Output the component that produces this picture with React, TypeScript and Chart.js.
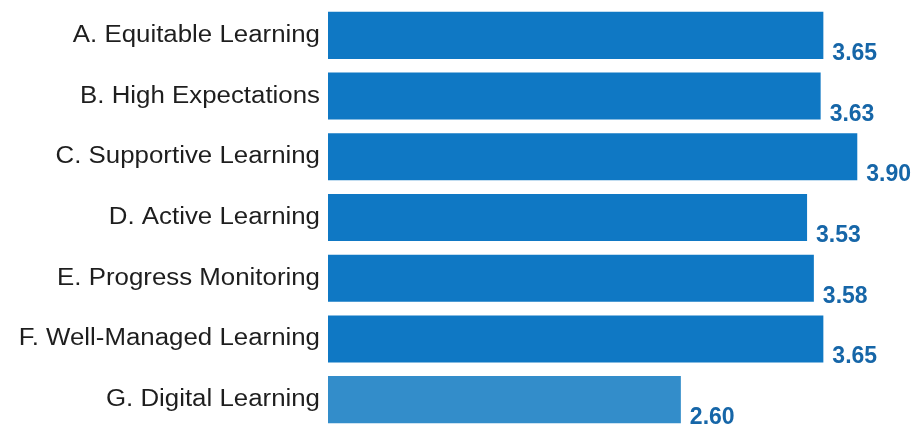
import React, { useEffect, useRef } from "react";
import { Chart, registerables } from "chart.js";

Chart.register(...registerables);

const categories = [
  "A. Equitable Learning",
  "B. High Expectations",
  "C. Supportive Learning",
  "D. Active Learning",
  "E. Progress Monitoring",
  "F. Well-Managed Learning",
  "G. Digital Learning",
];
const scores = [3.65, 3.63, 3.9, 3.53, 3.58, 3.65, 2.6];
const barColors = ["#0f78c4", "#0f78c4", "#0f78c4", "#0f78c4", "#0f78c4", "#0f78c4", "#338dca"];
const valueLabels = ["3.65", "3.63", "3.90", "3.53", "3.58", "3.65", "2.60"];

const LABEL_STRETCH = 1.1;

const valuePlugin = {
  id: "valueLabels",
  afterDatasetsDraw(chart: any) {
    const ctx = chart.ctx;
    const meta = chart.getDatasetMeta(0);
    ctx.save();
    ctx.font = "bold 23px 'Liberation Sans', Arial, sans-serif";
    ctx.fillStyle = "#1666a8";
    ctx.textAlign = "left";
    ctx.textBaseline = "alphabetic";
    meta.data.forEach((bar: any, i: number) => {
      const p = bar.getProps(["x", "y", "height"], true);
      ctx.fillText(valueLabels[i], p.x + 9, p.y + p.height / 2 + 1);
    });
    ctx.restore();
  },
};

export default function App() {
  const ref = useRef<HTMLCanvasElement>(null);
  useEffect(() => {
    if (!ref.current) return;
    const chart = new Chart(ref.current, {
      type: "bar",
      data: {
        labels: categories,
        datasets: [
          {
            data: scores,
            backgroundColor: barColors,
            borderWidth: 0,
            barPercentage: 0.775,
            categoryPercentage: 1,
          },
        ],
      },
      options: {
        indexAxis: "y",
        animation: false,
        responsive: true,
        maintainAspectRatio: false,
        layout: { padding: { top: 5, right: 16, bottom: 0, left: 0 } },
        plugins: { legend: { display: false }, tooltip: { enabled: false } },
        scales: {
          x: { display: false, min: 0, max: 4.2 },
          y: {
            grid: { display: false, drawTicks: false },
            border: { display: false },
            ticks: {
              padding: 8,
              color: "#1e1e1e",
              font: { family: "'Liberation Sans', Arial, sans-serif", size: 23.5 },
            },
            afterFit(scale: any) {
              scale.width = 328;
              scale.paddingTop = 0;
              scale.paddingBottom = 0;
              if (!scale._stretchPatched) {
                scale._stretchPatched = true;
                const orig = scale.drawLabels;
                scale.drawLabels = function (area: any) {
                  const ctx = this.ctx;
                  const ax = this.right - 8;
                  ctx.save();
                  ctx.translate(ax, 0);
                  ctx.scale(LABEL_STRETCH, 1);
                  ctx.translate(-ax, 0);
                  orig.call(this, area);
                  ctx.restore();
                };
              }
            },
          },
        },
      },
      plugins: [valuePlugin],
    });
    return () => chart.destroy();
  }, []);
  return (
    <div style={{ position: "absolute", left: 0, top: 0, width: 914, height: 430, background: "#fff" }}>
      <canvas ref={ref} />
    </div>
  );
}
